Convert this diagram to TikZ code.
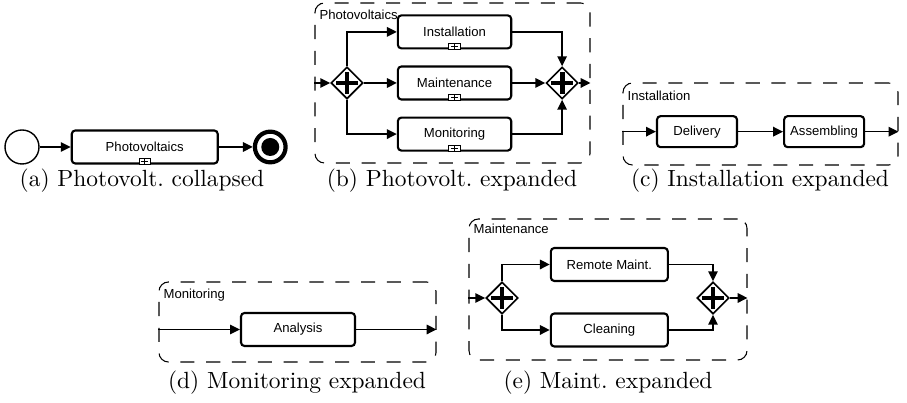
\documentclass[tikz,border=0pt]{standalone}
\usepackage{fontspec}
\usepackage{tikz}
\usetikzlibrary{shapes.geometric, arrows.meta, positioning, calc}
\newfontfamily\bpmnfont{Liberation Sans}

\begin{document}
\begin{tikzpicture}[
        task/.style={draw, rectangle, rounded corners=1.5pt, line width=0.9pt, font=\bpmnfont\fontsize{5.6}{6.7}\selectfont, minimum height=0.495cm, inner sep=1pt, align=center},
        gate/.style={draw, diamond, line width=0.7pt, minimum width=0.48cm, minimum height=0.48cm, inner sep=0pt, fill=white,
            path picture={\draw[line width=2.1pt] ($(path picture bounding box.center)+(-0.165,0)$) -- ++(0.33,0);
                          \draw[line width=2.1pt] ($(path picture bounding box.center)+(0,-0.165)$) -- ++(0,0.33);}},
        subproc/.style={draw, rectangle, rounded corners=4pt, dash pattern=on 6pt off 5pt, line width=0.45pt, inner sep=0pt},
        lanelabel/.style={font=\bpmnfont\fontsize{5.6}{6.7}\selectfont, inner sep=0pt, anchor=north west},
        arrow/.style={-{Triangle[length=4.2pt, width=4pt]}, line width=0.7pt},
        marker/.style={draw, line width=0.5pt, fill=white}
    ]
        \useasboundingbox (0,0) rectangle (13.605,6.045);

        % (a) collapsed
        \node[draw, circle, line width=0.6pt, minimum size=0.51cm, inner sep=0pt] (startA) at (0.33, 3.84) {};
        \node[task, minimum width=2.19cm, right=0.465cm of startA] (photo) {Photovoltaics};
        \node[draw, circle, line width=1.8pt, minimum size=0.46cm, inner sep=0pt, right=0.51cm of photo] (endA) {};
        \fill (endA.center) circle (0.135cm);
        \draw[arrow] (startA) -- (photo);
        \draw[arrow] (photo) -- (endA);
        \node at (2.13, 3.33) {(a) Photovolt.\ collapsed};

        % (b) Photovoltaics expanded
        \node[subproc, minimum width=4.125cm, minimum height=2.4cm] (frameB) at (6.7875, 4.8) {};
        \node[lanelabel] at ($(frameB.north west)+(0.07,-0.1)$) {Photovoltaics};
        \node[gate] (splitB) at (5.205, 4.8) {};
        \node[task, minimum width=1.7cm, right=0.495cm of splitB] (maint) {Maintenance};
        \node[task, minimum width=1.7cm, above=0.24cm of maint] (inst) {Installation};
        \node[task, minimum width=1.7cm, below=0.24cm of maint] (moni) {Monitoring};
        \node[gate, right=0.495cm of maint] (joinB) {};
        \draw[arrow] (frameB.west |- splitB) -- (splitB);
        \draw[arrow] (splitB.north) |- (inst);
        \draw[arrow] (splitB) -- (maint);
        \draw[arrow] (splitB.south) |- (moni);
        \draw[arrow] (inst) -| (joinB);
        \draw[arrow] (maint) -- (joinB);
        \draw[arrow] (moni) -| (joinB);
        \draw[arrow] (joinB) -- (frameB.east |- joinB);
        \node at (6.78, 3.33) {(b) Photovolt.\ expanded};

        % collapsed markers
        \foreach \t in {photo, inst, maint, moni} {
            \draw[marker] ($(\t.south)+(-0.085,0)$) rectangle ($(\t.south)+(0.085,0.09)$);
            \draw[line width=0.3pt] ($(\t.south)+(-0.05,0.045)$) -- ++(0.1,0);
            \draw[line width=0.3pt] ($(\t.south)+(0,0.01)$) -- ++(0,0.07);
        }

        % (c) Installation expanded
        \node[subproc, minimum width=4.125cm, minimum height=1.23cm] (frameC) at (11.4075, 4.185) {};
        \node[lanelabel] at ($(frameC.north west)+(0.07,-0.12)$) {Installation};
        \node[task, minimum width=1.2cm, minimum height=0.465cm] (deliv) at (10.455, 4.07) {Delivery};
        \node[task, minimum width=1.2cm, minimum height=0.465cm, right=0.675cm of deliv] (assem) {Assembling};
        \draw[arrow] (frameC.west |- deliv) -- (deliv);
        \draw[arrow] (deliv) -- (assem);
        \draw[arrow] (assem) -- (frameC.east |- assem);
        \node at (11.4, 3.33) {(c) Installation expanded};

        % (d) Monitoring expanded
        \node[subproc, minimum width=4.155cm, minimum height=1.2cm] (frameD) at (4.4625, 1.215) {};
        \node[lanelabel] at ($(frameD.north west)+(0.07,-0.1)$) {Monitoring};
        \node[task, minimum width=1.71cm] (analysis) at (4.47, 1.1025) {Analysis};
        \draw[arrow] (frameD.west |- analysis) -- (analysis);
        \draw[arrow] (analysis) -- (frameD.east |- analysis);
        \node at (4.455, 0.3) {(d) Monitoring expanded};

        % (e) Maintenance expanded
        \node[subproc, minimum width=4.17cm, minimum height=2.115cm] (frameE) at (9.12, 1.7025) {};
        \node[lanelabel] at ($(frameE.north west)+(0.07,-0.08)$) {Maintenance};
        \node[gate] (splitE) at (7.53, 1.575) {};
        \node[task, minimum width=1.755cm] (remote) at (9.14, 2.0775) {Remote Maint.};
        \node[task, minimum width=1.755cm] (clean) at (9.14, 1.095) {Cleaning};
        \node[gate] (joinE) at (10.695, 1.575) {};
        \draw[arrow] (frameE.west |- splitE) -- (splitE);
        \draw[arrow] (splitE.north) |- (remote);
        \draw[arrow] (splitE.south) |- (clean);
        \draw[arrow] (remote) -| (joinE);
        \draw[arrow] (clean) -| (joinE);
        \draw[arrow] (joinE) -- (frameE.east |- joinE);
        \node at (9.12, 0.3) {(e) Maint.\ expanded};
    \end{tikzpicture}
\end{document}
